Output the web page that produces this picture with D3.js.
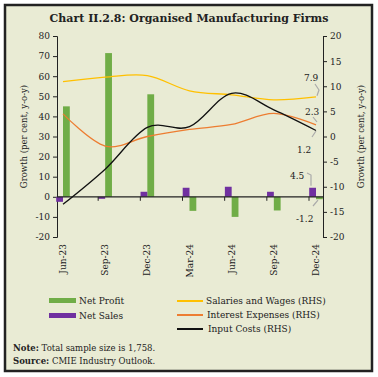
<!DOCTYPE html>
<html>
<head>
<meta charset="utf-8">
<script src="https://cdn.jsdelivr.net/npm/d3@7/dist/d3.min.js"></script>
<style>
  body { margin: 0; background: #fff; }
  text { font-family: "DejaVu Serif", serif; fill: #222; }
</style>
</head>
<body>
<div id="graph"></div>
<script>
// data
var quarters = ["Jun-23", "Sep-23", "Dec-23", "Mar-24", "Jun-24", "Sep-24", "Dec-24"];
var netProfit = [45, 71.5, 51, -7, -10, -6.8, -1.2];
var netSales = [-2.5, -1, 2.5, 4.5, 5, 2.5, 4.5];
var salaries = [10.9, 11.8, 12.1, 9.1, 8.3, 7.3, 7.9];
var interest = [4.5, -1.9, 0, 1.4, 2.4, 4.6, 2.3];
var inputCosts = [-13.5, -6.5, 1.8, 1.95, 8.6, 5.3, 1.2];
var leftTicks = [-20, -10, 0, 10, 20, 30, 40, 50, 60, 70, 80];
var rightTicks = [-20, -15, -10, -5, 0, 5, 10, 15, 20];

const W = 378, H = 377;
var fmt = v => String(v);  // plain hyphen minus like the original
var svg = d3.select("#graph").append("svg")
  .attr("width", W).attr("height", H);

// panel
svg.append("rect").attr("x", 5).attr("y", 5).attr("width", 367).attr("height", 366)
  .attr("fill", "#e9ebd4").attr("stroke", "#222").attr("stroke-width", 2.5);

svg.append("text").attr("x", 189).attr("y", 22).attr("text-anchor", "middle")
  .style("font-weight", "bold").style("font-size", "11px")
  .text("Chart II.2.8: Organised Manufacturing Firms");

//scales
var x = d3.scalePoint().domain(quarters).range([63, 316]);
var yL = d3.scaleLinear().domain([-20, 80]).range([237, 36]);
var yR = d3.scaleLinear().domain([-20, 20]).range([237, 36]);

//Left axis
var gl = svg.append("g").attr("transform", "translate(57,0)")
  .call(d3.axisLeft(yL).tickValues(leftTicks).tickFormat(fmt).tickSize(4).tickPadding(3));
//Right axis
var gr = svg.append("g").attr("transform", "translate(323,0)")
  .call(d3.axisRight(yR).tickValues(rightTicks).tickFormat(fmt).tickSize(4).tickPadding(3));
[gl, gr].forEach(function (g) {
  g.select(".domain").attr("stroke", "#222");
  g.selectAll(".tick line").attr("stroke", "#222");
  g.selectAll("text").style("font-size", "9px").attr("fill", "#333")
    .style("font-family", "DejaVu Serif, serif");
});

svg.append("text").attr("transform", "translate(27,136.5) rotate(-90)")
  .attr("text-anchor", "middle").style("font-size", "8.5px").attr("fill", "#444")
  .text("Growth (per cent, y-o-y)");
svg.append("text").attr("transform", "translate(364,136.5) rotate(-90)")
  .attr("text-anchor", "middle").style("font-size", "8.5px").attr("fill", "#444")
  .text("Growth (per cent, y-o-y)");

//bars
var bw = 6.8;
svg.append("g").selectAll("rect").data(quarters).enter().append("rect")
  .attr("x", d => x(d))
  .attr("width", bw)
  .attr("y", (d, i) => yL(Math.max(0, netProfit[i])))
  .attr("height", (d, i) => Math.abs(yL(netProfit[i]) - yL(0)))
  .attr("fill", "#70ad47");
svg.append("g").selectAll("rect").data(quarters).enter().append("rect")
  .attr("x", d => x(d) - bw)
  .attr("width", bw)
  .attr("y", (d, i) => yL(Math.max(0, netSales[i])))
  .attr("height", (d, i) => Math.abs(yL(netSales[i]) - yL(0)))
  .attr("fill", "#7030a0");

// x axis line at zero
svg.append("line").attr("x1", 57).attr("x2", 323)
  .attr("y1", yL(0)).attr("y2", yL(0)).attr("stroke", "#222").attr("stroke-width", 1.2);
svg.append("g").selectAll("line").data(quarters.slice(1)).enter().append("line")
  .attr("x1", d => x(d) - 7).attr("x2", d => x(d) - 7)
  .attr("y1", yL(0)).attr("y2", yL(0) + 4).attr("stroke", "#222");

svg.append("g").selectAll("text").data(quarters).enter().append("text")
  .attr("transform", d => "translate(" + (x(d) + 3) + ",244) rotate(-90)")
  .attr("text-anchor", "end").style("font-size", "9px")
  .text(d => d);

//lines
var line = d3.line()
  .x((d, i) => x(quarters[i]))
  .y(d => yR(d))
  .curve(d3.curveCardinal.tension(0));
[[salaries, "#ffc000"], [interest, "#ed7d31"], [inputCosts, "#111"]].forEach(function (s) {
  svg.append("path").attr("d", line(s[0])).attr("fill", "none")
    .attr("stroke", s[1]).attr("stroke-width", 1.3);
});

// data labels for last point
var lx = x(quarters[6]);
var labels = [
  {v: salaries[6], tx: 304, ty: 81, pts: [[315, 84], [319, 90], [lx + 1, yR(salaries[6]) - 1]]},
  {v: interest[6], tx: 305, ty: 115, pts: [[313, 117], [317, 122]]},
  {v: inputCosts[6], tx: 297, ty: 153, pts: [[312, 137], [316, 131]]},
  {v: netSales[6], tx: 290, ty: 179, pts: [[307, 173], [311, 175], [311, yL(netSales[6]) - 2]]},
  {v: netProfit[6], tx: 296, ty: 222, pts: [[313, 206], [318, yL(netProfit[6]) + 1]]}
];
labels.forEach(function (l) {
  svg.append("path").attr("d", d3.line()(l.pts)).attr("fill", "none")
    .attr("stroke", "#aaa").attr("stroke-width", 1.2);
  svg.append("text").attr("x", l.tx).attr("y", l.ty).style("font-size", "9px")
    .text(l.v.toFixed(1));
});

//legend
var lg = svg.append("g").style("font-size", "9px");
lg.append("rect").attr("x", 49).attr("y", 298).attr("width", 27).attr("height", 5).attr("fill", "#70ad47");
lg.append("text").attr("x", 79).attr("y", 304).text("Net Profit");
lg.append("rect").attr("x", 49).attr("y", 313).attr("width", 27).attr("height", 5).attr("fill", "#7030a0");
lg.append("text").attr("x", 79).attr("y", 319).text("Net Sales");
[["Salaries and Wages (RHS)", "#ffc000", 301], ["Interest Expenses (RHS)", "#ed7d31", 315], ["Input Costs (RHS)", "#111", 329]]
  .forEach(function (d, i) {
    lg.append("line").attr("x1", 177).attr("x2", 203).attr("y1", d[2]).attr("y2", d[2])
      .attr("stroke", d[1]).attr("stroke-width", 2);
    lg.append("text").attr("x", 206 + i).attr("y", d[2] + 3).text(d[0]);
  });

var nt = svg.append("text").attr("x", 13).attr("y", 351).style("font-size", "8.5px");
nt.append("tspan").style("font-weight", "bold").text("Note:");
nt.append("tspan").text(" Total sample size is 1,758.");
var so = svg.append("text").attr("x", 13).attr("y", 364).style("font-size", "8.5px");
so.append("tspan").style("font-weight", "bold").text("Source:");
so.append("tspan").text(" CMIE Industry Outlook.");
</script>
</body>
</html>
